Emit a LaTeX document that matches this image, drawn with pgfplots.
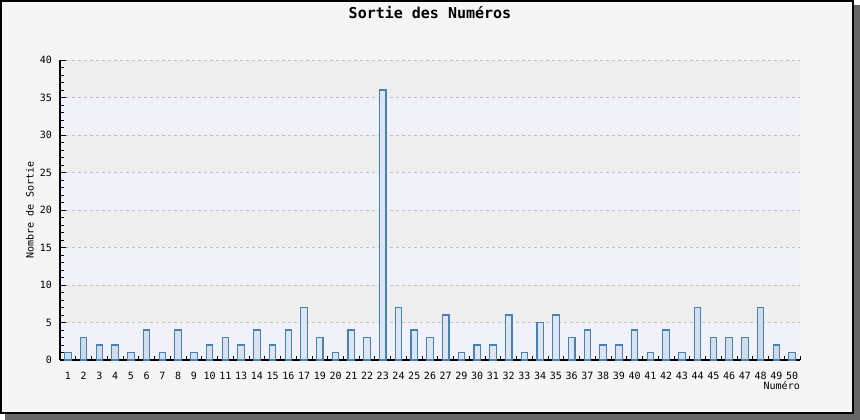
\documentclass[border=0pt]{standalone}
\usepackage{pgfplots}
\pgfplotsset{compat=1.18}
\usepackage{fontspec}
\setmainfont{DejaVu Sans Mono}
\setmonofont{DejaVu Sans Mono}
\definecolor{bgc}{HTML}{F5F5F5}
\definecolor{shadowc}{HTML}{666666}
\definecolor{bandgray}{HTML}{EEEEEE}
\definecolor{bandblue}{HTML}{F1F1FA}
\definecolor{gridc}{HTML}{C0C0C0}
\definecolor{barborder}{HTML}{4682B4}
\definecolor{barl}{HTML}{B0C2DE}
\definecolor{barr}{HTML}{DDE5F3}
\pgfdeclarehorizontalshading{barshade}{100bp}{color(0bp)=(barl); color(40bp)=(barr); color(60bp)=(barr); color(100bp)=(barl)}
\pgfplotstableread{
x v
0 1
1 3
2 2
3 2
4 1
5 4
6 1
7 4
8 1
9 2
10 3
11 2
12 4
13 2
14 4
15 7
16 3
17 1
18 4
19 3
20 36
21 7
22 4
23 3
24 6
25 1
26 2
27 2
28 6
29 1
30 5
31 6
32 3
33 4
34 2
35 2
36 4
37 1
38 4
39 1
40 7
41 3
42 3
43 3
44 7
45 2
46 1
}\datatable
\begin{document}
\begin{tikzpicture}
\begin{axis}[
  set layers,
  width=740bp, height=300bp, scale only axis,
  xmin=-0.5, xmax=46.5, ymin=0, ymax=40,
  clip=false,
  axis x line*=bottom, axis y line*=left,
  axis line style={line width=1.2bp, black},
  tick align=inside,
  major tick length=6bp, minor tick length=4bp,
  tick style={black, line width=0.8bp},
  ytick={0,5,...,40}, minor y tick num=4,
  xtick={0,...,46},
  xticklabels={1,2,3,4,5,6,7,8,9,10,11,13,14,15,16,17,19,20,21,22,23,24,25,26,27,29,30,31,32,33,34,35,36,37,38,39,40,41,42,43,44,45,46,47,48,49,50},
  minor xtick={-0.5,0.5,...,46.5},
  major x tick style={draw=none},
  ymajorgrids,
  major grid style={gridc, dashed, line width=0.8bp, dash pattern=on 3bp off 3bp},
  /pgf/number format/assume math mode=true,
  xticklabel style={font=\fontsize{10bp}{12bp}\selectfont, inner sep=0pt, anchor=north, yshift=-12bp},
  yticklabel style={font=\fontsize{10bp}{12bp}\selectfont, inner sep=0pt, anchor=east, xshift=-8bp},
]
\begin{pgfonlayer}{axis background}
  \fill[shadowc] ([xshift=-55bp,yshift=-60bp]rel axis cs:0,0) rectangle ([xshift=60bp,yshift=55bp]rel axis cs:1,1);
  \filldraw[fill=bgc, draw=black, line width=2bp] ([xshift=-59bp,yshift=-53bp]rel axis cs:0,0) rectangle ([xshift=53bp,yshift=59bp]rel axis cs:1,1);
  \fill[bandblue] (axis cs:-0.5,0) rectangle (axis cs:46.5,5);
  \fill[bandgray] (axis cs:-0.5,5) rectangle (axis cs:46.5,10);
  \fill[bandblue] (axis cs:-0.5,10) rectangle (axis cs:46.5,15);
  \fill[bandgray] (axis cs:-0.5,15) rectangle (axis cs:46.5,20);
  \fill[bandblue] (axis cs:-0.5,20) rectangle (axis cs:46.5,25);
  \fill[bandgray] (axis cs:-0.5,25) rectangle (axis cs:46.5,30);
  \fill[bandblue] (axis cs:-0.5,30) rectangle (axis cs:46.5,35);
  \fill[bandgray] (axis cs:-0.5,35) rectangle (axis cs:46.5,40);
\end{pgfonlayer}
\addplot[ybar, bar width=6.5bp, draw=barborder, line width=1.1bp, shading=barshade] table[x=x, y=v] {\datatable};
\node[font=\bfseries\fontsize{15bp}{18bp}\selectfont] at ([yshift=47bp]rel axis cs:0.5,1) {Sortie des Numéros};
\node[font=\fontsize{10bp}{12bp}\selectfont, rotate=90] at ([xshift=-30bp]rel axis cs:0,0.5) {Nombre de Sortie};
\node[font=\fontsize{10bp}{12bp}\selectfont, anchor=east, inner sep=0pt] at ([yshift=-26bp]rel axis cs:1,0) {Numéro};
\end{axis}
\end{tikzpicture}
\end{document}
